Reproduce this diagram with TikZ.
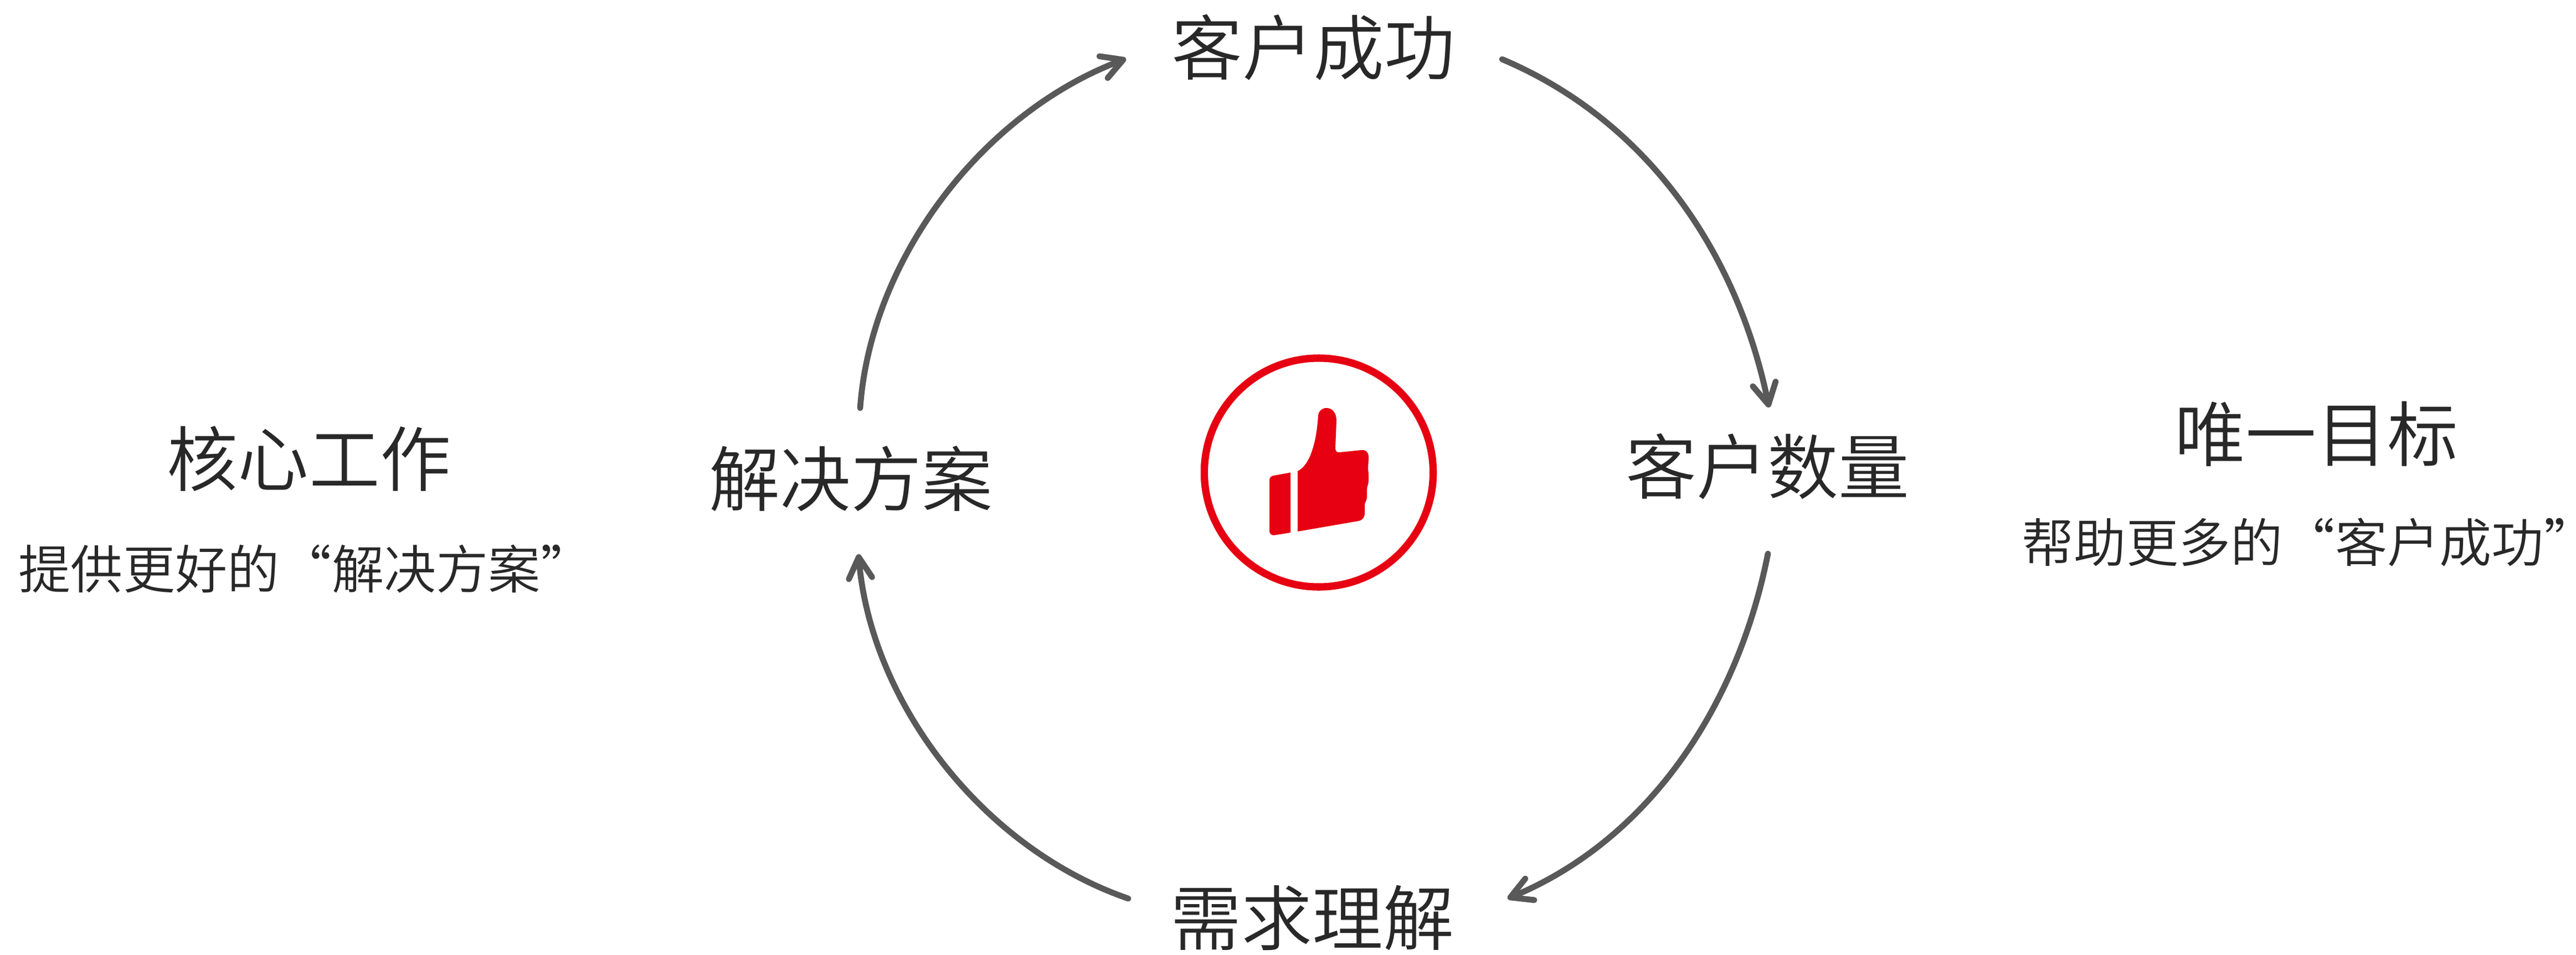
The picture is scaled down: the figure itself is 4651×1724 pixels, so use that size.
\documentclass[tikz,border=0pt]{standalone}
\usepackage{fontspec}
\IfFontExistsTF{Noto Sans CJK SC DemiLight}
  {\newfontfamily\cjk{Noto Sans CJK SC DemiLight}}
  {\IfFontExistsTF{Noto Sans CJK SC Light}
    {\newfontfamily\cjk{Noto Sans CJK SC Light}}
    {\newfontfamily\cjk{Noto Sans CJK SC}}}
\usetikzlibrary{arrows.meta}
\definecolor{txt}{RGB}{40,40,40}
\definecolor{arr}{RGB}{89,89,89}
\definecolor{thred}{RGB}{230,0,18}
\begin{document}
\begin{tikzpicture}[x=0.01cm,y=-0.01cm,
  title/.style={font=\cjk\fontsize{36.4pt}{40pt}\selectfont, text=txt, inner sep=0pt, anchor=base},
  sub/.style={font=\cjk\fontsize{26.8pt}{30pt}\selectfont, text=txt, inner sep=0pt, anchor=base west},
  flow/.style={draw=arr, line width=0.107cm, line cap=round, -{Straight Barb[length=0.38cm,width=0.42cm,round]}}]
\useasboundingbox (0,0) rectangle (4651,1724);

% text nodes
\node[title] (ks)  at (2371,134)  {客户成功};
\node[title] (jj)  at (1536,913)  {解决方案};
\node[title] (ksl) at (3191,891)  {客户数量};
\node[title] (xq)  at (2369,1706) {需求理解};
\node[title] (hx)  at (558,877)   {核心工作};
\node[title] (wy)  at (4182,832)  {唯一目标};
\node[sub] (hxs) at (33,1063)   {提供更好的“解决方案\makebox[0.4em][l]{”}};
\node[sub] (wys) at (3650,1015) {帮助更多的“客户成功\makebox[0.4em][l]{”}};

% connector end points
\coordinate (a1s) at (1553,737);  \coordinate (a1e) at (2033,106);
\coordinate (a2s) at (2712,107);  \coordinate (a2e) at (3194,736);
\coordinate (a3s) at (3192,1000); \coordinate (a3e) at (2722,1623);
\coordinate (a4s) at (2037,1623); \coordinate (a4e) at (1550,1001);

\draw[flow] (a1s) .. controls (1572,470) and (1771,205) .. (a1e);
\draw[flow] (a2s) .. controls (2979,220) and (3138,462) .. (a2e);
\draw[flow] (a3s) .. controls (3138,1274) and (2979,1516) .. (a3e);
\draw[flow] (a4s) .. controls (1771,1531) and (1572,1266) .. (a4e);

% badge
\node[circle, draw=thred, line width=0.133cm, minimum size=4.13cm, inner sep=0pt] (badge) at (2381,853.5) {};
% cuff
\fill[thred] (2292,868) .. controls (2292,862) and (2295,860) .. (2300,859)
  -- (2330,853.5) -- (2330,962) -- (2302,966.5)
  .. controls (2296,967.5) and (2292,965) .. (2292,958) -- cycle;
% hand
\fill[thred] (2343,851) -- (2343,960) -- (2453,941)
  .. controls (2461,939) and (2464,934) .. (2464,926)
  -- (2464,912) .. controls (2464,906) and (2468,905) .. (2468,898)
  -- (2468,885) .. controls (2468,878) and (2471,875) .. (2471,868)
  -- (2471,858) .. controls (2471,852) and (2470,850) .. (2470,845)
  -- (2471,830) .. controls (2472,818) and (2467,812) .. (2458,813)
  -- (2418,817) .. controls (2413,817) and (2411,815) .. (2411,808)
  -- (2413,760) .. controls (2413,745) and (2405,737) .. (2395,737)
  .. controls (2387,737) and (2381,742) .. (2380,750)
  .. controls (2377,800) and (2365,840) .. (2343,851) -- cycle;
\end{tikzpicture}
\end{document}
